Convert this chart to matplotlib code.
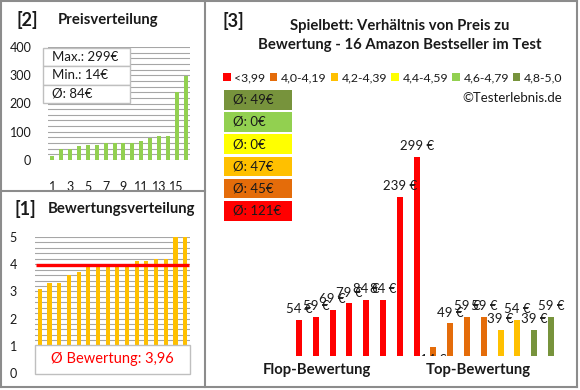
import numpy as np
import matplotlib
matplotlib.use('Agg')
import matplotlib.pyplot as plt
from matplotlib.patches import Rectangle, Patch
from matplotlib.lines import Line2D

plt.rcParams['font.family'] = ['Lato', 'DejaVu Sans']

# ============ data ============
# products in the order of chart [3] (grouped by rating class, then by price)
prices = [54, 59, 69, 79, 84, 84, 239, 299, 14, 49, 59, 59, 39, 54, 39, 59]
ratings = [3.1, 3.3, 3.3, 3.6, 3.7, 3.9, 3.9, 3.9, 4.0, 4.0, 4.1, 4.1, 4.2, 4.2, 5.0, 5.0]
class_labels = ['<3,99', '4,0-4,19', '4,2-4,39', '4,4-4,59', '4,6-4,79', '4,8-5,0']
class_edges = [3.995, 4.195, 4.395, 4.595, 4.795]
class_colors = ['#FF0000', '#E46C0A', '#FFC000', '#FFFF00', '#92D050', '#77933C']

W, H = 580, 390
GRID = '#A6A6A6'
BORDER = '#8C8C8C'
TXT = '#1A1A1A'
TITLE_FS = 10.7


def px_rect(l, t, r, b):
    """Pixel box (left, top, right, bottom) -> figure fraction rect"""
    return [l / W, 1 - b / H, (r - l) / W, (b - t) / H]


def fx(x):
    return x / W


def fy(y):
    return 1 - y / H


def euro_round(v):
    return int(np.floor(v + 0.5))


prices_arr = np.array(prices)
ratings_arr = np.array(ratings)
cls = np.digitize(ratings_arr, class_edges)

fig = plt.figure(figsize=(5.8, 3.9), dpi=100)

# ---- panel borders ----
for (x0, y0, x1, y1) in [(1, 1, 577, 1), (1, 387, 577, 387), (1, 1, 1, 387),
                         (577, 1, 577, 387), (205, 1, 205, 387), (1, 191, 205, 191)]:
    fig.add_artist(Line2D([fx(x0), fx(x1)], [fy(y0), fy(y1)], color=BORDER, lw=1.5))

# ============ [2] Preisverteilung ============
ax1 = fig.add_axes(px_rect(48, 47, 190, 160))
p_sorted = np.sort(prices_arr)
x = np.arange(len(p_sorted))
ax1.set_axisbelow(True)
ax1.bar(x, p_sorted, width=0.45, color='#92D050', zorder=3)
ax1.set_xlim(-0.5, len(p_sorted) - 0.5)
ax1.set_ylim(0, 400)
ax1.set_yticks(np.arange(0, 401, 100))
ax1.set_yticks(np.arange(0, 401, 20), minor=True)
ax1.grid(True, which='both', axis='y', color=GRID, lw=0.8)
ax1.set_xticks(x[::2])
ax1.set_xticklabels([str(i + 1) for i in x[::2]])
ax1.tick_params(axis='both', which='both', length=0, labelsize=9, colors=TXT)
ax1.tick_params(axis='y', pad=12)
ax1.tick_params(axis='x', pad=15)
for s in ax1.spines.values():
    s.set_visible(False)

fig.text(fx(27), fy(20), '[2]', fontsize=13, fontweight='bold', ha='center', va='center', color=TXT)
fig.text(fx(58), fy(20), 'Preisverteilung', fontsize=TITLE_FS, fontweight='bold', ha='left',
         va='center', color=TXT)

# info box
info = [f'Max.: {p_sorted.max()}€', f'Min.: {p_sorted.min()}€', f'Ø: {euro_round(p_sorted.mean())}€']
bx0, bx1, by0, row_h = 43, 130, 48, 18.3
for i, t in enumerate(info):
    top = by0 + i * row_h
    fig.add_artist(Rectangle((fx(bx0), fy(top + row_h)), (bx1 - bx0) / W, row_h / H,
                             transform=fig.transFigure, facecolor='white', edgecolor='#BFBFBF', lw=1, zorder=5))
    fig.text(fx(bx0 + 9), fy(top + row_h / 2), t, fontsize=9.5, ha='left', va='center', color=TXT, zorder=6)

# ============ [1] Bewertungsverteilung ============
ax2 = fig.add_axes(px_rect(35, 237, 190, 373))
r_sorted = np.sort(ratings_arr)
x = np.arange(len(r_sorted))
ax2.set_axisbelow(True)
ax2.bar(x, r_sorted, width=0.42, color='#FFC000', zorder=3)
r_mean = r_sorted.mean()
ax2.plot([-0.42, len(r_sorted) - 0.65], [r_mean, r_mean], color='#FF0000', lw=2.4, zorder=4,
         solid_capstyle='butt')
ax2.set_xlim(-0.5, len(r_sorted) - 0.5)
ax2.set_ylim(0, 5)
ax2.set_yticks(np.arange(0, 6, 1))
ax2.set_yticks(np.arange(0, 5.01, 0.2), minor=True)
ax2.grid(True, which='both', axis='y', color=GRID, lw=0.8)
ax2.set_xticks([])
ax2.tick_params(axis='y', which='both', length=0, labelsize=9, colors=TXT, pad=13)
for s in ax2.spines.values():
    s.set_visible(False)
ax2.add_patch(Rectangle((-0.5, -0.02), len(r_sorted), 1.05, facecolor='white', edgecolor='#BFBFBF',
                        lw=1, zorder=6, clip_on=False))
ax2.text(len(r_sorted) / 2 - 0.5, 0.5, 'Ø Bewertung: ' + f'{r_mean:.2f}'.replace('.', ','),
         fontsize=10.5, color='#FF0000', ha='center', va='center', zorder=7)

fig.text(fx(25), fy(209), '[1]', fontsize=13, fontweight='bold', ha='center', va='center', color=TXT)
fig.text(fx(48), fy(209), 'Bewertungsverteilung', fontsize=TITLE_FS, fontweight='bold', ha='left',
         va='center', color=TXT)

# ============ [3] Preis vs Bewertung ============
ax3 = fig.add_axes(px_rect(290.6, 129.7, 559.4, 356))
x = np.arange(len(prices))
bar_colors = [class_colors[c] for c in cls]
ax3.bar(x, prices_arr, width=0.36, color=bar_colors)
ax3.set_xlim(-0.5, len(prices) - 0.5)
ax3.set_ylim(0, 340)
ax3.axis('off')
for xi, p in zip(x, prices):
    if p < 20:
        # too small: Excel pushes the label down behind the caption box
        ax3.annotate(f'{p} €', (xi, 0), xytext=(0, -3), textcoords='offset points',
                     ha='center', va='center', fontsize=9.5, color=TXT, clip_on=True)
    else:
        ax3.annotate(f'{p} €', (xi, p), xytext=(0, 3.5), textcoords='offset points',
                     ha='center', va='bottom', fontsize=9.5, color=TXT)

fig.text(fx(233), fy(21), '[3]', fontsize=13, fontweight='bold', ha='center', va='center', color=TXT)
fig.text(fx(400), fy(26), 'Spielbett: Verhältnis von Preis zu', fontsize=TITLE_FS, fontweight='bold',
         ha='center', va='center', color=TXT)
fig.text(fx(400), fy(45), 'Bewertung - 16 Amazon Bestseller im Test', fontsize=TITLE_FS,
         fontweight='bold', ha='center', va='center', color=TXT)

handles = [Patch(facecolor=c, edgecolor='none') for c in class_colors]
fig.legend(handles, class_labels, ncol=6, loc='center', bbox_to_anchor=(fx(393), fy(78)),
           frameon=False, fontsize=8.8, handlelength=0.6, handleheight=0.6, handletextpad=0.3,
           columnspacing=0.35, borderpad=0, labelcolor=TXT)
fig.text(fx(562), fy(98), '©Testerlebnis.de', fontsize=9.5, ha='right', va='center', color=TXT)

# class averages, best class on top
for row, k in enumerate(range(len(class_labels) - 1, -1, -1)):
    vals = prices_arr[cls == k]
    avg = euro_round(vals.mean()) if len(vals) else 0
    top = 90 + row * 22.2
    fig.add_artist(Rectangle((fx(224), fy(top + 19.5)), 68 / W, 19.5 / H, transform=fig.transFigure,
                             facecolor=class_colors[k], edgecolor='none'))
    fig.text(fx(233), fy(top + 9.8), f'Ø: {avg}€', fontsize=9.5, ha='left', va='center', color=TXT)

fig.text(fx(263), fy(370), 'Flop-Bewertung', fontsize=TITLE_FS, fontweight='bold', ha='left',
         va='center', color=TXT)
fig.text(fx(426), fy(370), 'Top-Bewertung', fontsize=TITLE_FS, fontweight='bold', ha='left',
         va='center', color=TXT)

plt.savefig('out.png', dpi=100)
